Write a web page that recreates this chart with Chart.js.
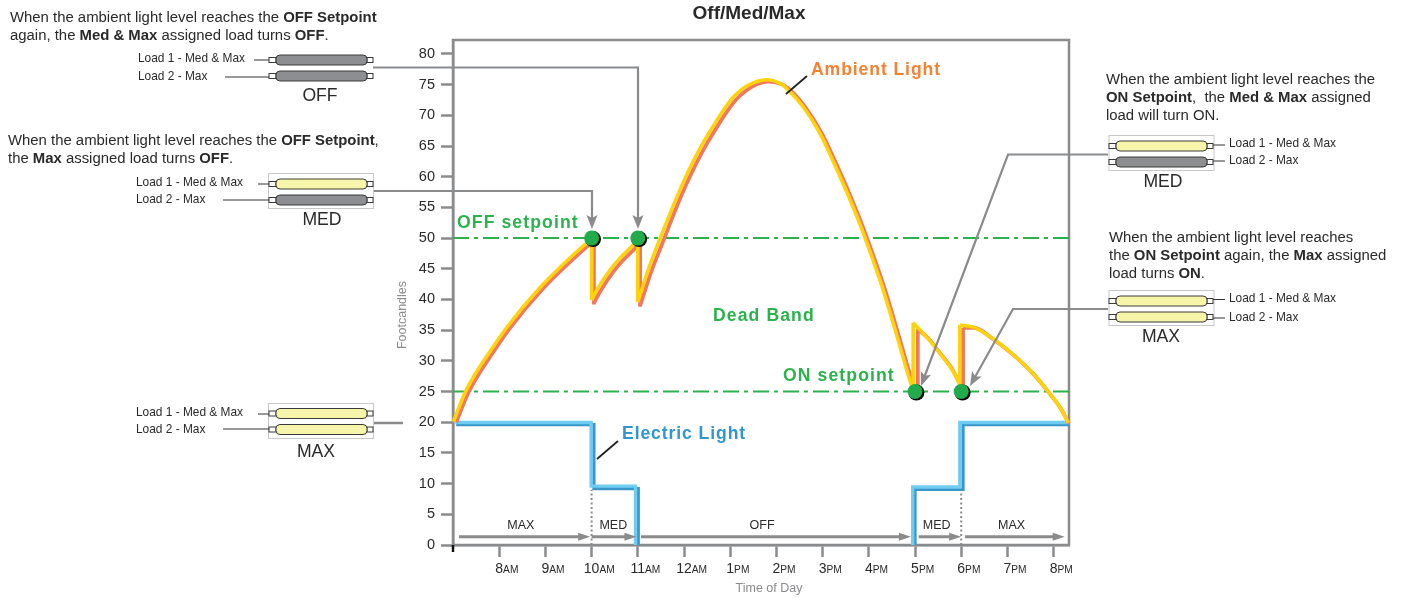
<!DOCTYPE html>
<html>
<head>
<meta charset="utf-8">
<title>Off/Med/Max</title>
<script src="https://cdn.jsdelivr.net/npm/chart.js@4"></script>
<style>
html, body { margin: 0; padding: 0; background: #fff; }
canvas { display: block; }
</style>
</head>
<body>
<canvas id="chart" width="1403" height="602"></canvas>
<script>
// Ambient light (hour of day, footcandles). null splits the arcs.
const ambientHours = [7.01,7.26,7.51,7.80,8.16,8.88,9.60,10.0, 10,  10.0,10.11,10.40,10.61,10.90,11.0, 11, 11.0,11.23,11.48,11.77,11.98,12.20,12.42,12.63,12.85,13.07,13.28,13.50,13.79,14.08,14.22,14.58,14.94,15.23,15.52,15.77,15.95,16.28,16.60,16.89,16.96, 17, 16.96,17.25,17.54,17.76,17.94,17.97, 18, 17.97,18.26,18.69,19.13,19.56,19.88,20.14,20.32];
const ambientValues = [20.1,24.8,28.2,31.5,35.4,41.9,47.25,49.9, null, 39.9,41.5,44.8,46.7,48.9,49.8, null, 39.6,44.9,49.9,55.3,59.0,62.5,65.6,68.2,70.8,73.0,74.4,75.3,75.8,75.2,74.4,71.4,67.1,62.5,57.6,53.0,49.4,42.3,34.3,26.8,25.2, null, 36.2,33.9,31.2,29.05,26.6,25.8, null, 35.85,35.5,33.6,31.0,27.9,25.0,22.4,19.9];
const ambientJumpHours = [10.0,10.0,10, 11.0,11.0,11, 16.96,16.96,17, 17.97,17.97];
const ambientJumpValues = [49.9,39.9,null, 49.8,39.6,null, 25.2,36.2,null, 25.8,35.85];

// the salmon line sits just behind the yellow one
const ambientBackHours = [7.07,7.32,7.57,7.86,8.22,8.94,9.66,10.05, 10, 10.05,10.17,10.46,10.67,10.96,11.05, 11, 11.05,11.29,11.54,11.83,12.04,12.26,12.48,12.69,12.91,13.13,13.34,13.55,13.82,14.10,14.26,14.62,14.98,15.27,15.56,15.81,15.99,16.32,16.64,16.93,17.0, 17, 17.06,17.27,17.56,17.78,17.96,18.04, 18, 18.04,18.27,18.70,19.14,19.57,19.89,20.15,20.33];
const ambientBackValues = [20.0,24.6,28.0,31.3,35.2,41.7,47.0,49.6, null, 39.4,41.1,44.4,46.3,48.5,49.4, null, 39.0,44.5,49.3,54.9,58.6,62.1,65.2,67.8,70.4,72.6,74.0,75.0,75.5,75.1,74.4,71.4,67.1,62.5,57.6,53.0,49.4,42.3,34.3,26.8,25.2, null, 35.2,33.8,31.1,28.95,26.5,25.6, null, 35.4,35.4,33.5,30.9,27.8,24.9,22.3,19.8];
const ambientBackJumpHours = [10.05,10.05,10, 11.05,11.05,11, 17.06,17.06,17, 18.04,18.04];
const ambientBackJumpValues = [49.6,39.2,null, 49.4,38.8,null, 25.2,35.2,null, 25.6,35.4];

// Electric light steps
const electricHours = [7.05,9.99,9.99,10.95,10.95,13,16.95,16.95,17.97,17.97,20.33];
const electricValues = [19.96,19.96,9.6,9.6,0,null,0,9.45,9.45,19.96,19.96];
const electricBackHours = [7.07,10.05,10.05,11.01,11.01,13,17.0,17.0,18.04,18.04,20.33];
const electricBackValues = [19.6,19.6,9.2,9.2,0,null,0,9.07,9.07,19.6,19.6];

// Setpoints
const setpointHours = [7, 20.33];
const offSetpoint = [50, 50];
const onSetpoint = [25, 25];
const switchHours = [10, 11, 17, 18];
const switchValues = [50, 50, 25, 25];
const switchShadowHours = [10.03, 11.03, 17.03, 18.03];
const switchShadowValues = [49.85, 49.85, 24.85, 24.85];

// Dotted dividers under the MED plateaus
const dividerLeftHours = [10, 10];
const dividerRightHours = [18, 18];
const dividerValues = [0, 9];

// Axis ticks
const tickHours = ['8','9','10','11','12','1','2','3','4','5','6','7','8'];
const tickSuffix = ['AM','AM','AM','AM','AM','PM','PM','PM','PM','PM','PM','PM','PM'];

// Mode arrows along the bottom of the plot
const modeNames = ['MAX','MED','OFF','MED','MAX'];
const modeStart = [7.13,10.0,11.07,17.08,18.08];
const modeEnd = [9.97,10.97,16.91,18.0,20.24];
const modeLabelHour = [8.47,10.47,13.69,17.47,19.09];
const modeLevel = 1.35;

const GRAY = '#8a8b8d';
const TEXT = '#2b2a2b';
const FONT = '"Liberation Sans", Arial, sans-serif';
const NOTE = 14.9;
const LOAD = 11.9;
const STATE = 17.6;

function pts(xs, ys) {
    return xs.map((x, i) => ({ x: x, y: ys[i] }));
}

function line(ctx, coords, color, width) {
    ctx.strokeStyle = color;
    ctx.lineWidth = width;
    ctx.beginPath();
    coords.forEach((p, i) => i ? ctx.lineTo(p[0], p[1]) : ctx.moveTo(p[0], p[1]));
    ctx.stroke();
}

// arrow head with its tip at x,y pointing along angle a
function arrowHead(ctx, x, y, a, len, half, notch) {
    ctx.save();
    ctx.translate(x, y);
    ctx.rotate(a);
    ctx.fillStyle = GRAY;
    ctx.beginPath();
    ctx.moveTo(0, 0);
    ctx.lineTo(-len, -half);
    ctx.lineTo(-len + notch, 0);
    ctx.lineTo(-len, half);
    ctx.closePath();
    ctx.fill();
    ctx.restore();
}

function leader(ctx, coords) {
    const n = coords.length;
    const a = Math.atan2(coords[n-1][1] - coords[n-2][1], coords[n-1][0] - coords[n-2][0]);
    const end = [coords[n-1][0] - Math.cos(a) * 8, coords[n-1][1] - Math.sin(a) * 8];
    line(ctx, coords.slice(0, n-1).concat([end]), GRAY, 2.2);
    arrowHead(ctx, coords[n-1][0], coords[n-1][1], a, 14, 5.5, 3);
}

// one line of text where [text, true] pieces are bold
function rich(ctx, x, y, parts, size) {
    ctx.textAlign = 'left';
    ctx.textBaseline = 'middle';
    ctx.fillStyle = TEXT;
    parts.forEach(p => {
        ctx.font = (p[1] ? 'bold ' : '') + size + 'px ' + FONT;
        ctx.fillText(p[0], x, y);
        x += ctx.measureText(p[0]).width;
    });
}

function label(ctx, text, x, y, size, color, align, bold, spacing) {
    ctx.font = (bold ? 'bold ' : '') + size + 'px ' + FONT;
    ctx.fillStyle = color;
    ctx.textAlign = align || 'center';
    ctx.textBaseline = 'middle';
    ctx.letterSpacing = (spacing || 0) + 'px';
    ctx.fillText(text, x, y);
    ctx.letterSpacing = '0px';
}

function lamp(ctx, x, y, on) {
    ctx.lineWidth = 1;
    ctx.strokeStyle = '#3a3a3a';
    ctx.fillStyle = '#fff';
    ctx.fillRect(x - 7, y + 2.5, 7, 5);
    ctx.strokeRect(x - 7, y + 2.5, 7, 5);
    ctx.fillRect(x + 91, y + 2.5, 6, 5);
    ctx.strokeRect(x + 91, y + 2.5, 6, 5);
    ctx.beginPath();
    ctx.roundRect(x, y, 91, 10, 4);
    ctx.fillStyle = on ? '#f7f5a9' : '#8d8e91';
    ctx.fill();
    ctx.stroke();
}

function frame(ctx, x, y) {
    ctx.strokeStyle = '#c8c8ca';
    ctx.lineWidth = 1;
    ctx.strokeRect(x, y, 105, 35);
}

const annotations = {
    id: 'annotations',
    afterLayout(chart) {
        // title is centred a little left of the plot
        chart.titleBlock.left += 16;
    },
    beforeDatasetsDraw(chart) {
        const ctx = chart.ctx;
        const a = chart.chartArea;
        ctx.save();
        ctx.strokeStyle = GRAY;
        ctx.lineWidth = 2.5;
        ctx.strokeRect(a.left, a.top, a.right - a.left, a.bottom - a.top);
        ctx.restore();
    },
    afterDatasetsDraw(chart) {
        const ctx = chart.ctx;
        const x = chart.scales.x;
        const y = chart.scales.y;
        const a = chart.chartArea;
        ctx.save();

        // start tick of the time axis
        line(ctx, [[a.left, a.bottom], [a.left, a.bottom + 7]], '#111', 2.5);

        // time axis labels, suffix in small caps
        tickHours.forEach((h, i) => {
            const px = x.getPixelForValue(i + 8);
            label(ctx, h, px, 569, 14, TEXT);
            ctx.font = '14px ' + FONT;
            const w = ctx.measureText(h).width;
            label(ctx, tickSuffix[i], px + w / 2, 570, 10.2, TEXT, 'left');
        });
        label(ctx, 'Time of Day', 769, 589, 12.5, GRAY);
        ctx.save();
        ctx.translate(403, 315);
        ctx.rotate(-Math.PI / 2);
        label(ctx, 'Footcandles', 0, 0, 12.5, GRAY);
        ctx.restore();

        // mode arrows
        modeNames.forEach((name, i) => {
            const py = y.getPixelForValue(modeLevel);
            const x1 = x.getPixelForValue(modeStart[i]);
            const x2 = x.getPixelForValue(modeEnd[i]);
            line(ctx, [[x1, py], [x2 - 8, py]], GRAY, 3);
            arrowHead(ctx, x2, py, 0, 12, 4, 0);
            label(ctx, name, x.getPixelForValue(modeLabelHour[i]), 525.5, 12.5, TEXT);
        });

        // curve names
        label(ctx, 'Ambient Light', 811, 70, 17.6, '#f58233', 'left', true, 0.9);
        line(ctx, [[786, 94], [807, 76]], '#222', 1.8);
        label(ctx, 'Electric Light', 622, 434, 17.6, '#2f96d2', 'left', true, 0.9);
        line(ctx, [[597, 459], [618, 441]], '#222', 1.8);
        label(ctx, 'OFF setpoint', 457, 223, 17.6, '#2bb24c', 'left', true, 1.1);
        label(ctx, 'ON setpoint', 783, 376, 17.6, '#2bb24c', 'left', true, 1.1);
        label(ctx, 'Dead Band', 713, 316, 17.6, '#2bb24c', 'left', true, 1.1);

        // leaders from the lamp groups to the switch points
        leader(ctx, [[373, 67.5], [638, 67.5], [638, 229]]);
        leader(ctx, [[373, 191], [592, 191], [592, 229]]);
        line(ctx, [[374, 423], [403, 423]], GRAY, 2.5);
        leader(ctx, [[1108, 154.5], [1008, 154.5], [921, 386]]);
        leader(ctx, [[1108, 309], [1013, 309], [970, 386]]);

        // OFF group
        rich(ctx, 10, 18, [['When the ambient light level reaches the '], ['OFF Setpoint', true]], NOTE);
        rich(ctx, 10, 36, [['again, the '], ['Med & Max', true], [' assigned load turns '], ['OFF', true], ['.']], NOTE);
        line(ctx, [[254, 60], [269, 60]], '#333', 1);
        line(ctx, [[225, 77], [269, 77]], '#333', 1);
        lamp(ctx, 276, 55, false);
        lamp(ctx, 276, 71, false);
        label(ctx, 'Load 1 - Med & Max', 138, 59, LOAD, TEXT, 'left');
        label(ctx, 'Load 2 - Max', 138, 77, LOAD, TEXT, 'left');
        label(ctx, 'OFF', 320, 96, STATE, TEXT);

        // MED group
        rich(ctx, 8, 141, [['When the ambient light level reaches the '], ['OFF Setpoint', true], [',']], NOTE);
        rich(ctx, 8, 159, [['the '], ['Max', true], [' assigned load turns '], ['OFF', true], ['.']], NOTE);
        frame(ctx, 268.5, 173.5);
        line(ctx, [[258, 184], [269, 184]], '#333', 1);
        line(ctx, [[223, 200], [269, 200]], '#333', 1);
        lamp(ctx, 276, 179, true);
        lamp(ctx, 276, 195, false);
        label(ctx, 'Load 1 - Med & Max', 136, 183, LOAD, TEXT, 'left');
        label(ctx, 'Load 2 - Max', 136, 200, LOAD, TEXT, 'left');
        label(ctx, 'MED', 322, 220, STATE, TEXT);

        // MAX group
        frame(ctx, 268.5, 403.5);
        line(ctx, [[258, 414], [269, 414]], '#333', 1);
        line(ctx, [[223, 429], [269, 429]], '#333', 1);
        lamp(ctx, 276, 408.5, true);
        lamp(ctx, 276, 424.5, true);
        label(ctx, 'Load 1 - Med & Max', 136, 413, LOAD, TEXT, 'left');
        label(ctx, 'Load 2 - Max', 136, 430, LOAD, TEXT, 'left');
        label(ctx, 'MAX', 316, 452, STATE, TEXT);

        // right MED group
        rich(ctx, 1106, 80, [['When the ambient light level reaches the']], NOTE);
        rich(ctx, 1106, 98, [['ON Setpoint', true], [',  the '], ['Med & Max', true], [' assigned']], NOTE);
        rich(ctx, 1106, 116, [['load will turn ON.']], NOTE);
        frame(ctx, 1109, 135.5);
        line(ctx, [[1213, 145], [1225, 145]], '#333', 1);
        line(ctx, [[1213, 161], [1225, 161]], '#333', 1);
        lamp(ctx, 1116, 141, true);
        lamp(ctx, 1116, 157, false);
        label(ctx, 'Load 1 - Med & Max', 1229, 144, LOAD, TEXT, 'left');
        label(ctx, 'Load 2 - Max', 1229, 161, LOAD, TEXT, 'left');
        label(ctx, 'MED', 1163, 182, STATE, TEXT);

        // right MAX group
        rich(ctx, 1109, 238, [['When the ambient light level reaches']], NOTE);
        rich(ctx, 1109, 256, [['the '], ['ON Setpoint', true], [' again, the '], ['Max', true], [' assigned']], NOTE);
        rich(ctx, 1109, 274, [['load turns '], ['ON', true], ['.']], NOTE);
        frame(ctx, 1109, 290.5);
        line(ctx, [[1213, 299.5], [1225, 299.5]], '#333', 1);
        line(ctx, [[1213, 318], [1225, 318]], '#333', 1);
        lamp(ctx, 1116, 296, true);
        lamp(ctx, 1116, 312, true);
        label(ctx, 'Load 1 - Med & Max', 1229, 299, LOAD, TEXT, 'left');
        label(ctx, 'Load 2 - Max', 1229, 318, LOAD, TEXT, 'left');
        label(ctx, 'MAX', 1161, 337, STATE, TEXT);

        ctx.restore();
    }
};

function lineSet(name, xs, ys, color, width, extra) {
    return Object.assign({
        label: name,
        data: pts(xs, ys),
        showLine: true,
        borderColor: color,
        borderWidth: width,
        pointRadius: 0,
        tension: 0,
        spanGaps: false,
        clip: false
    }, extra || {});
}

const smooth = { cubicInterpolationMode: 'monotone', tension: 0.4 };

// the first dataset is painted last
new Chart(document.getElementById('chart'), {
    type: 'scatter',
    data: {
        datasets: [
            { label: 'Switch points', data: pts(switchHours, switchValues), pointRadius: 7.5, pointHoverRadius: 7.5, pointBackgroundColor: '#22ab4b', pointBorderWidth: 0, clip: false },
            { label: 'Switch shadow', data: pts(switchShadowHours, switchShadowValues), pointRadius: 8, pointBackgroundColor: '#000', pointBorderWidth: 0, clip: false },
            lineSet('Ambient Light', ambientHours, ambientValues, '#ffd30a', 3.6, smooth),
            lineSet('Ambient Light jumps', ambientJumpHours, ambientJumpValues, '#ffd30a', 3.6),
            lineSet('Ambient Light back', ambientBackHours, ambientBackValues, '#f0785f', 3.8, smooth),
            lineSet('Ambient Light back jumps', ambientBackJumpHours, ambientBackJumpValues, '#f0785f', 3.8),
            lineSet('Electric Light', electricHours, electricValues, '#6fcdf2', 3.4),
            lineSet('Electric Light back', electricBackHours, electricBackValues, '#3a97c9', 3.2),
            lineSet('OFF setpoint', setpointHours, offSetpoint, '#2bb24c', 2, { borderDash: [16, 5, 4, 5] }),
            lineSet('ON setpoint', setpointHours, onSetpoint, '#2bb24c', 2, { borderDash: [16, 5, 4, 5] }),
            lineSet('MED start', dividerLeftHours, dividerValues, GRAY, 2, { borderDash: [2, 2.5] }),
            lineSet('MAX start', dividerRightHours, dividerValues, GRAY, 2, { borderDash: [2, 2.5] })
        ]
    },
    options: {
        responsive: false,
        animation: false,
        events: [],
        layout: { padding: { left: 413, right: 334, top: 0, bottom: 17 } },
        plugins: {
            legend: { display: false },
            tooltip: { enabled: false },
            title: {
                display: true,
                text: 'Off/Med/Max',
                color: TEXT,
                font: { family: FONT, size: 19, weight: 'bold' },
                padding: { top: 2, bottom: 15.2 }
            }
        },
        scales: {
            x: {
                type: 'linear',
                min: 7,
                max: 20.333,
                afterFit(scale) { scale.height = 40; },
                border: { color: GRAY, width: 2.5 },
                grid: {
                    drawOnChartArea: false,
                    tickLength: 12,
                    tickWidth: 2.5,
                    tickColor: c => c.tick && c.tick.value === 7 ? 'rgba(0,0,0,0)' : GRAY
                },
                ticks: { display: false, stepSize: 1, includeBounds: false, autoSkip: false }
            },
            y: {
                min: 0,
                max: 82.28,
                afterFit(scale) { scale.width = 40; },
                border: { color: GRAY, width: 2.5 },
                grid: { drawOnChartArea: false, tickLength: 12, tickWidth: 2.5, tickColor: GRAY },
                ticks: {
                    stepSize: 5,
                    includeBounds: false,
                    autoSkip: false,
                    padding: 6,
                    color: TEXT,
                    font: { family: FONT, size: 14.5 }
                }
            }
        }
    },
    plugins: [annotations]
});
</script>
</body>
</html>
